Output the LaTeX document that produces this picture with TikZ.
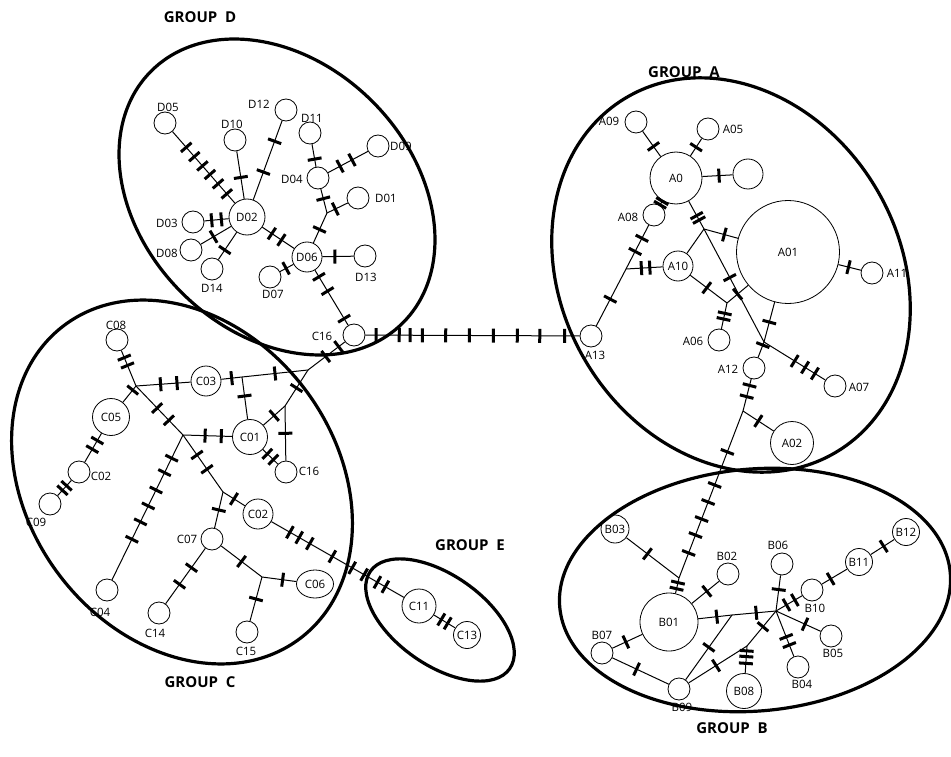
\documentclass[tikz,border=0pt]{standalone}
\usepackage{fontspec}
\setmainfont{Open Sans}
\usetikzlibrary{shapes.geometric}
\newcommand\labfont{\fontsize{11.5}{13}\selectfont}
\newcommand\grpfont{\fontsize{15}{18}\selectfont\bfseries}
% a connector with mutation bars at the given positions
\newcommand\mline[3]{\draw[link] (#1) -- (#2) \foreach \q in {#3}{node[mut,pos=\q]{}};}
\begin{document}
\begin{tikzpicture}[x=1pt,y=-1pt,
  hap/.style={circle, draw, line width=0.8pt, inner sep=0pt, minimum size=#1, font=\labfont},
  hap/.default=22pt,
  link/.style={line width=1pt},
  mut/.style={sloped, fill=black, draw=none, inner sep=0pt, minimum width=3pt, minimum height=14pt},
  grp/.style={line width=3.2pt},
  lab/.style={font=\labfont, inner sep=1pt},
  glab/.style={font=\grpfont, inner sep=1pt}]
\useasboundingbox (0,0) rectangle (951,757);

% ---------- group outlines ----------
\begin{scope}[shift={(277,197)}, rotate=-45]
  \draw[grp] (0,0) ellipse [x radius=178, y radius=135];
\end{scope}
\begin{scope}[shift={(731,275)}, rotate=-59.5]
  \draw[grp] (0,0) ellipse [x radius=206, y radius=169];
\end{scope}
\begin{scope}[shift={(182,482)}, rotate=-53]
  \draw[grp] (0,0) ellipse [x radius=196, y radius=154];
\end{scope}
\begin{scope}[shift={(755,590)}, rotate=5]
  \draw[grp] (0,0) ellipse [x radius=196, y radius=121];
\end{scope}
\begin{scope}[shift={(440,620)}, rotate=-35]
  \draw[grp] (0,0) ellipse [x radius=85, y radius=45];
\end{scope}

\node[glab] (gD) at (200,17) {GROUP~~D};
\node[glab] (gA) at (684,72) {GROUP~~A};
\node[glab] (gE) at (470,545) {GROUP~~E};
\node[glab] (gC) at (200,682) {GROUP~~C};
\node[glab] (gB) at (732,728) {GROUP~~B};

% ---------- group D ----------
\node[hap] (D05) at (165,123) {};
\node[hap] (D10) at (235,140) {};
\node[hap] (D12) at (286,110) {};
\node[hap] (D11) at (310,133) {};
\node[hap] (D09) at (378,146) {};
\node[hap] (D04) at (318,178) {};
\node[hap] (D01) at (358,198) {};
\node[hap=36pt] (D02) at (247,217) {D02};
\node[hap] (D03) at (193,222) {};
\node[hap] (D08) at (191,250) {};
\node[hap] (D14) at (212,269) {};
\node[hap=30pt] (D06) at (307,257) {D06};
\node[hap] (D07) at (270,277) {};
\node[hap] (D13) at (365,256) {};
\node[hap] (C16a) at (354,335) {};
\coordinate (JD) at (327,213);

\node[lab] (lD05) at (168,107) {D05};
\node[lab] (lD10) at (232,124) {D10};
\node[lab] (lD12) at (259,104) {D12};
\node[lab] (lD11) at (312,118) {D11};
\node[lab] (lD09) at (401,146) {D09};
\node[lab] (lD04) at (292,179) {D04};
\node[lab] (lD01) at (386,198) {D01};
\node[lab] (lD03) at (167,223) {D03};
\node[lab] (lD08) at (167,253) {D08};
\node[lab] (lD14) at (212,288) {D14};
\node[lab] (lD07) at (273,294) {D07};
\node[lab] (lD13) at (366,277) {D13};
\node[lab] (lC16a) at (322,336) {C16};

% ---------- group A ----------
\node[hap=52pt] (A0) at (676,178) {A0};
\node[hap] (A09) at (636,122) {};
\node[hap] (A05) at (708,129) {};
\node[hap=30pt] (AU) at (748,174) {};
\node[hap] (A08) at (654,215) {};
\node[hap=103pt] (A01) at (788,252) {A01};
\node[hap] (A11) at (872,273) {};
\node[hap=30pt] (A10) at (678,266) {A10};
\node[hap] (A13) at (591,336) {};
\node[hap] (A06) at (719,340) {};
\node[hap] (A12) at (754,368) {};
\node[hap] (A07) at (835,386) {};
\node[hap=43pt] (A02) at (792,443) {A02};
\coordinate (JA1) at (626,269);
\coordinate (JA2) at (704,229);
\coordinate (JA3) at (727,303);
\coordinate (JA4) at (764,342);
\coordinate (JA5) at (743,411);

\node[lab] (lA09) at (609,121) {A09};
\node[lab] (lA05) at (733,129) {A05};
\node[lab] (lA08) at (628,217) {A08};
\node[lab] (lA11) at (897,273) {A11};
\node[lab] (lA13) at (595,355) {A13};
\node[lab] (lA06) at (693,341) {A06};
\node[lab] (lA12) at (728,369) {A12};
\node[lab] (lA07) at (859,387) {A07};

% ---------- group B ----------
\node[hap=28pt] (B03) at (615,529) {B03};
\node[hap] (B02) at (728,574) {};
\node[hap] (B06) at (782,564) {};
\node[hap=27pt] (B11) at (859,562) {B11};
\node[hap=27pt] (B12) at (906,532) {B12};
\node[hap] (B10) at (812,590) {};
\node[hap=58pt] (B01) at (669,622) {B01};
\node[hap] (B07) at (602,653) {};
\node[hap] (B05) at (831,636) {};
\node[hap] (B04) at (798,667) {};
\node[hap=35pt] (B08) at (744,691) {B08};
\node[hap] (B09) at (679,689) {};
\coordinate (JB0) at (679,578);
\coordinate (JB) at (776,611);
\coordinate (JM) at (732,615);
\coordinate (JB8) at (747,646);

\node[lab] (lB02) at (727,556) {B02};
\node[lab] (lB06) at (778,545) {B06};
\node[lab] (lB10) at (815,608) {B10};
\node[lab] (lB07) at (602,635) {B07};
\node[lab] (lB05) at (833,653) {B05};
\node[lab] (lB04) at (802,684) {B04};
\node[lab] (lB09) at (682,707) {B09};

% ---------- groups C and E ----------
\node[hap] (C08) at (117,340) {};
\node[hap=30pt] (C03) at (206,381) {C03};
\node[hap=37pt] (C05) at (111,417) {C05};
\node[hap=35pt] (C01) at (250,437) {C01};
\node[hap] (C02a) at (79,472) {};
\node[hap] (C16b) at (286,472) {};
\node[hap] (C09) at (50,504) {};
\node[hap] (C04) at (107,590) {};
\node[hap] (C14) at (159,613) {};
\node[hap] (C07) at (212,539) {};
\node[hap] (C15) at (247,632) {};
\node[ellipse, draw, line width=0.8pt, inner sep=0pt, minimum width=37pt, minimum height=28pt, font=\labfont] (C06) at (315,584) {C06};
\node[hap=30pt] (C02b) at (258,514) {C02};
\node[hap=34pt] (C11) at (419,606) {C11};
\node[hap=27pt] (C13) at (467,635) {C13};
\coordinate (JC1) at (136,386);
\coordinate (JC2) at (183,435);
\coordinate (JC3) at (308,370);
\coordinate (JC4) at (285,406);
\coordinate (JCb) at (242,377);
\coordinate (JC5) at (223,492);
\coordinate (JC6) at (262,577);

\node[lab] (lC08) at (116,325) {C08};
\node[lab] (lC02a) at (101,476) {C02};
\node[lab] (lC16b) at (309,471) {C16};
\node[lab] (lC09) at (36,522) {C09};
\node[lab] (lC04) at (100,612) {C04};
\node[lab] (lC14) at (155,633) {C14};
\node[lab] (lC07) at (187,539) {C07};
\node[lab] (lC15) at (246,651) {C15};

% ---------- connectors, group D ----------
\mline{D05}{D02}{0.22,0.35,0.48,0.6,0.73,0.87}
\mline{D10}{D02}{0.55}
\mline{D12}{D02}{0.26,0.65}
\mline{D11}{D04}{0.66}
\mline{D09}{D04}{0.4,0.7}
\mline{D04}{JD}{0.4}
\mline{D01}{JD}{0.6}
\mline{JD}{D06}{0.55}
\mline{D03}{D02}{0.3,0.7}
\mline{D08}{D02}{0.42}
\mline{D14}{D02}{0.35}
\mline{D02}{D06}{0.3,0.6}
\mline{D07}{D06}{0.45}
\mline{D06}{D13}{0.4}
\mline{D06}{C16a}{0.12,0.38,0.88}

% long link between the two halves
\mline{C16a}{A13}{0.05,0.158,0.209,0.266,0.375,0.485,0.597,0.709,0.814,0.93}

% ---------- connectors, group A ----------
\mline{A09}{A0}{0.6}
\mline{A05}{A0}{0.5}
\mline{A0}{AU}{0.55}
\mline{A0}{A08}{0.1,0.9}
\mline{A08}{JA1}{0.3,0.6}
\mline{JA1}{A13}{0.53}
\mline{A10}{JA1}{0.35,0.58}
\mline{A0}{JA2}{0.52,0.68}
\mline{JA2}{A01}{0.6}
\draw[link] (JA2) -- (A10);
\mline{JA2}{JA4}{0.43}
\mline{A10}{JA3}{0.45}
\mline{JA3}{A01}{0.5}
\mline{JA3}{A06}{0.4,0.62}
\mline{A01}{A11}{0.45}
\mline{A01}{JA4}{0.5}
\mline{JA4}{A12}{0.2}
\mline{JA4}{A07}{0.5,0.67,0.83}
\mline{A12}{JA5}{0.2,0.55}
\mline{JA5}{A02}{0.5}
\mline{JA5}{JB0}{0.245,0.443,0.545,0.647,0.743,0.85}

% ---------- connectors, group B ----------
\mline{B03}{JB0}{0.4}
\mline{JB0}{B01}{0.3,0.7}
\mline{B02}{B01}{0.45}
\mline{B01}{JM}{0.55}
\mline{JM}{JB}{0.55}
\mline{JM}{B09}{0.5}
\mline{B09}{B07}{0.57}
\mline{B07}{B01}{0.45}
\mline{B09}{JB8}{0.47}
\mline{B08}{JB8}{0.36,0.61,0.82}
\mline{JB8}{JB}{0.55}
\mline{JB}{B06}{0.6}
\mline{JB}{B10}{0.4,0.72}
\mline{B10}{B11}{0.35}
\mline{B11}{B12}{0.55}
\mline{JB}{B05}{0.65}
\mline{JB}{B04}{0.57,0.75}

% ---------- connectors, groups C and E ----------
\mline{C16a}{JC3}{0.17,0.52}
\mline{JC3}{JC4}{0.5}
\mline{JC4}{C01}{0.5}
\mline{JC4}{C16b}{0.5}
\mline{C01}{C16b}{0.3,0.7}
\mline{JC1}{C03}{0.45,0.75}
\mline{C03}{JCb}{0.5}
\mline{JCb}{JC3}{0.5}
\mline{JCb}{C01}{0.45}
\mline{C08}{JC1}{0.2,0.42}
\mline{JC1}{C05}{0.25}
\mline{C05}{C02a}{0.25,0.55}
\mline{C02a}{C09}{0.35,0.65}
\mline{JC1}{JC2}{0.45,0.7}
\mline{JC2}{C01}{0.45,0.78}
\mline{JC2}{C04}{0.16,0.26,0.38,0.49,0.6,0.72}
\mline{JC2}{JC5}{0.35,0.6}
\mline{JC5}{C02b}{0.5}
\mline{JC5}{C07}{0.5}
\mline{C02b}{C11}{0.14,0.21,0.29,0.46,0.61,0.7,0.8,0.86}
\mline{C11}{C13}{0.35,0.65}
\mline{C07}{JC6}{0.5}
\mline{JC6}{C06}{0.6}
\mline{JC6}{C15}{0.5}
\mline{C07}{C14}{0.35,0.65}
\end{tikzpicture}
\end{document}
